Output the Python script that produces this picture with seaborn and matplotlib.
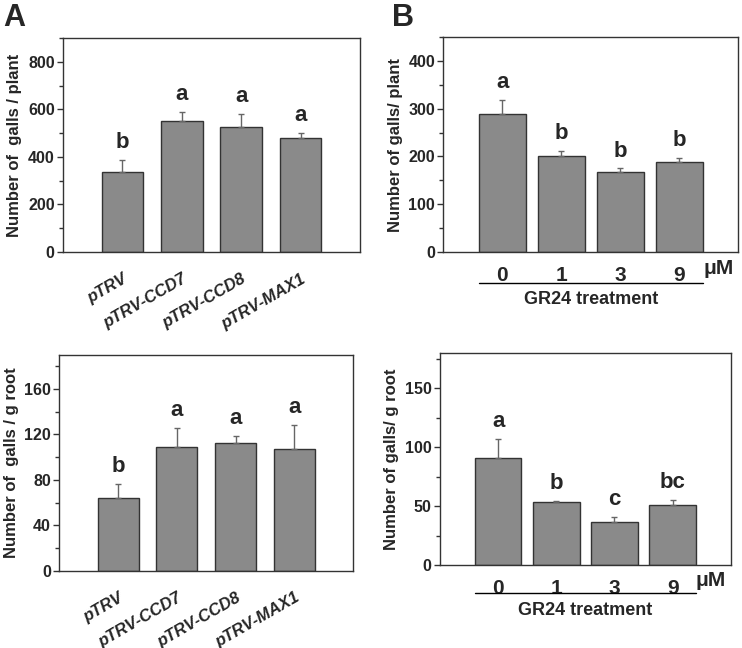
import numpy as np
import pandas as pd
import matplotlib
matplotlib.use('Agg')
import matplotlib.pyplot as plt
import seaborn as sns
from matplotlib.ticker import MultipleLocator

sns.set_theme(style='white')
plt.rcParams['font.family'] = ['Liberation Sans', 'DejaVu Sans']
plt.rcParams['font.weight'] = 'bold'

# --- data ---
vigs_groups = ['pTRV', 'pTRV-CCD7', 'pTRV-CCD8', 'pTRV-MAX1']
vigs_plant = [338, 550, 525, 479]
vigs_plant_err = [50, 39, 56, 21]
vigs_plant_letters = ['b', 'a', 'a', 'a']
vigs_root = [63.8, 109.3, 112.8, 106.9]
vigs_root_err = [12.4, 16.5, 6, 21.3]
vigs_root_letters = ['b', 'a', 'a', 'a']

gr24_doses = ['0', '1', '3', '9']
gr24_plant = [289, 201, 167, 189.5]
gr24_plant_err = [28, 11, 8, 7]
gr24_plant_letters = ['a', 'b', 'b', 'b']
gr24_root = [90.8, 53.6, 36.1, 50.5]
gr24_root_err = [16, 1, 5, 5]
gr24_root_letters = ['a', 'b', 'c', 'bc']

BAR = '#8a8a8a'
EDGE = '#333333'
ERR = '#666666'

fig = plt.figure(figsize=(7.42, 6.48), dpi=100)
axA1 = fig.add_axes([0.0849, 0.6111, 0.4003, 0.3303])
axB1 = fig.add_axes([0.5975, 0.6106, 0.3976, 0.3328])
axA2 = fig.add_axes([0.0799, 0.1193, 0.3962, 0.3329])
axB2 = fig.add_axes([0.5930, 0.1281, 0.3918, 0.3276])


def draw_bars(ax, groups, vals, errs, letters, width, ylim, major, minor, ylabel):
    df = pd.DataFrame({'group': groups, 'value': vals})
    sns.barplot(data=df, x='group', y='value', color=BAR, saturation=1,
                edgecolor=EDGE, linewidth=1, width=width, errorbar=None, ax=ax)
    x = np.arange(len(vals))
    ax.errorbar(x, vals, yerr=[np.zeros(len(errs)), errs], fmt='none',
                ecolor=ERR, elinewidth=1, capsize=2.5, capthick=1, zorder=1)
    for xi, v, e, lab in zip(x, vals, errs, letters):
        ax.annotate(lab, (xi, v + e), xytext=(0, 5), textcoords='offset points',
                    ha='center', va='bottom', fontsize=16, fontweight='bold')
    ax.set_xlim(-1, 4)
    ax.set_ylim(*ylim)
    ax.yaxis.set_major_locator(MultipleLocator(major))
    ax.yaxis.set_minor_locator(MultipleLocator(minor))
    ax.tick_params(axis='y', which='both', direction='out', left=True, width=1,
                   color=EDGE, labelsize=11.5, pad=2)
    ax.tick_params(axis='y', which='major', length=4)
    ax.tick_params(axis='y', which='minor', length=3)
    ax.tick_params(axis='x', bottom=False)
    ax.set_yticks(ax.get_yticks())
    ax.set_yticklabels([f'{t:g}' for t in ax.get_yticks()], fontweight='bold')
    ax.set_ylim(*ylim)
    ax.set_xlabel('')
    ax.set_ylabel(ylabel, fontsize=12, fontweight='bold', labelpad=4)
    for sp in ax.spines.values():
        sp.set_visible(True)
        sp.set_color(EDGE)
        sp.set_linewidth(1)


def vigs_ticks(ax):
    ax.set_xticks(range(len(vigs_groups)))
    ax.set_xticklabels(vigs_groups, rotation=30, ha='right', rotation_mode='anchor',
                       fontsize=12, fontweight='bold', fontstyle='italic')
    ax.tick_params(axis='x', pad=8)


def gr24_ticks(ax, line_px, text_px):
    ax.set_xticks(range(len(gr24_doses)))
    ax.set_xticklabels(gr24_doses, fontsize=15, fontweight='bold')
    ax.tick_params(axis='x', pad=4)
    h = ax.get_position().height * fig.get_figheight() * fig.dpi
    tr = ax.get_xaxis_transform()
    ax.text(3.66, -16 / h, 'μM', transform=tr, ha='center', va='center',
            fontsize=15, fontweight='bold')
    ax.plot([-0.4, 3.4], [-line_px / h] * 2, color='black', lw=1,
            transform=tr, clip_on=False)
    ax.text(1.5, -text_px / h, 'GR24 treatment', transform=tr, ha='center',
            va='center', fontsize=13, fontweight='bold')


draw_bars(axA1, vigs_groups, vigs_plant, vigs_plant_err, vigs_plant_letters,
          0.7, (0, 900), 200, 100, 'Number of  galls / plant')
vigs_ticks(axA1)
draw_bars(axA2, vigs_groups, vigs_root, vigs_root_err, vigs_root_letters,
          0.7, (0, 190), 40, 20, 'Number of  galls / g root')
vigs_ticks(axA2)
draw_bars(axB1, gr24_doses, gr24_plant, gr24_plant_err, gr24_plant_letters,
          0.8, (0, 450), 100, 50, 'Number of galls/ plant')
gr24_ticks(axB1, 31, 47)
draw_bars(axB2, gr24_doses, gr24_root, gr24_root_err, gr24_root_letters,
          0.8, (0, 180), 50, 25, 'Number of galls/ g root')
gr24_ticks(axB2, 28, 46)

fig.text(0.005, 0.995, 'A', fontsize=22, fontweight='bold', va='top', ha='left')
fig.text(0.528, 0.995, 'B', fontsize=22, fontweight='bold', va='top', ha='left')

fig.savefig('out.png', dpi=100)
